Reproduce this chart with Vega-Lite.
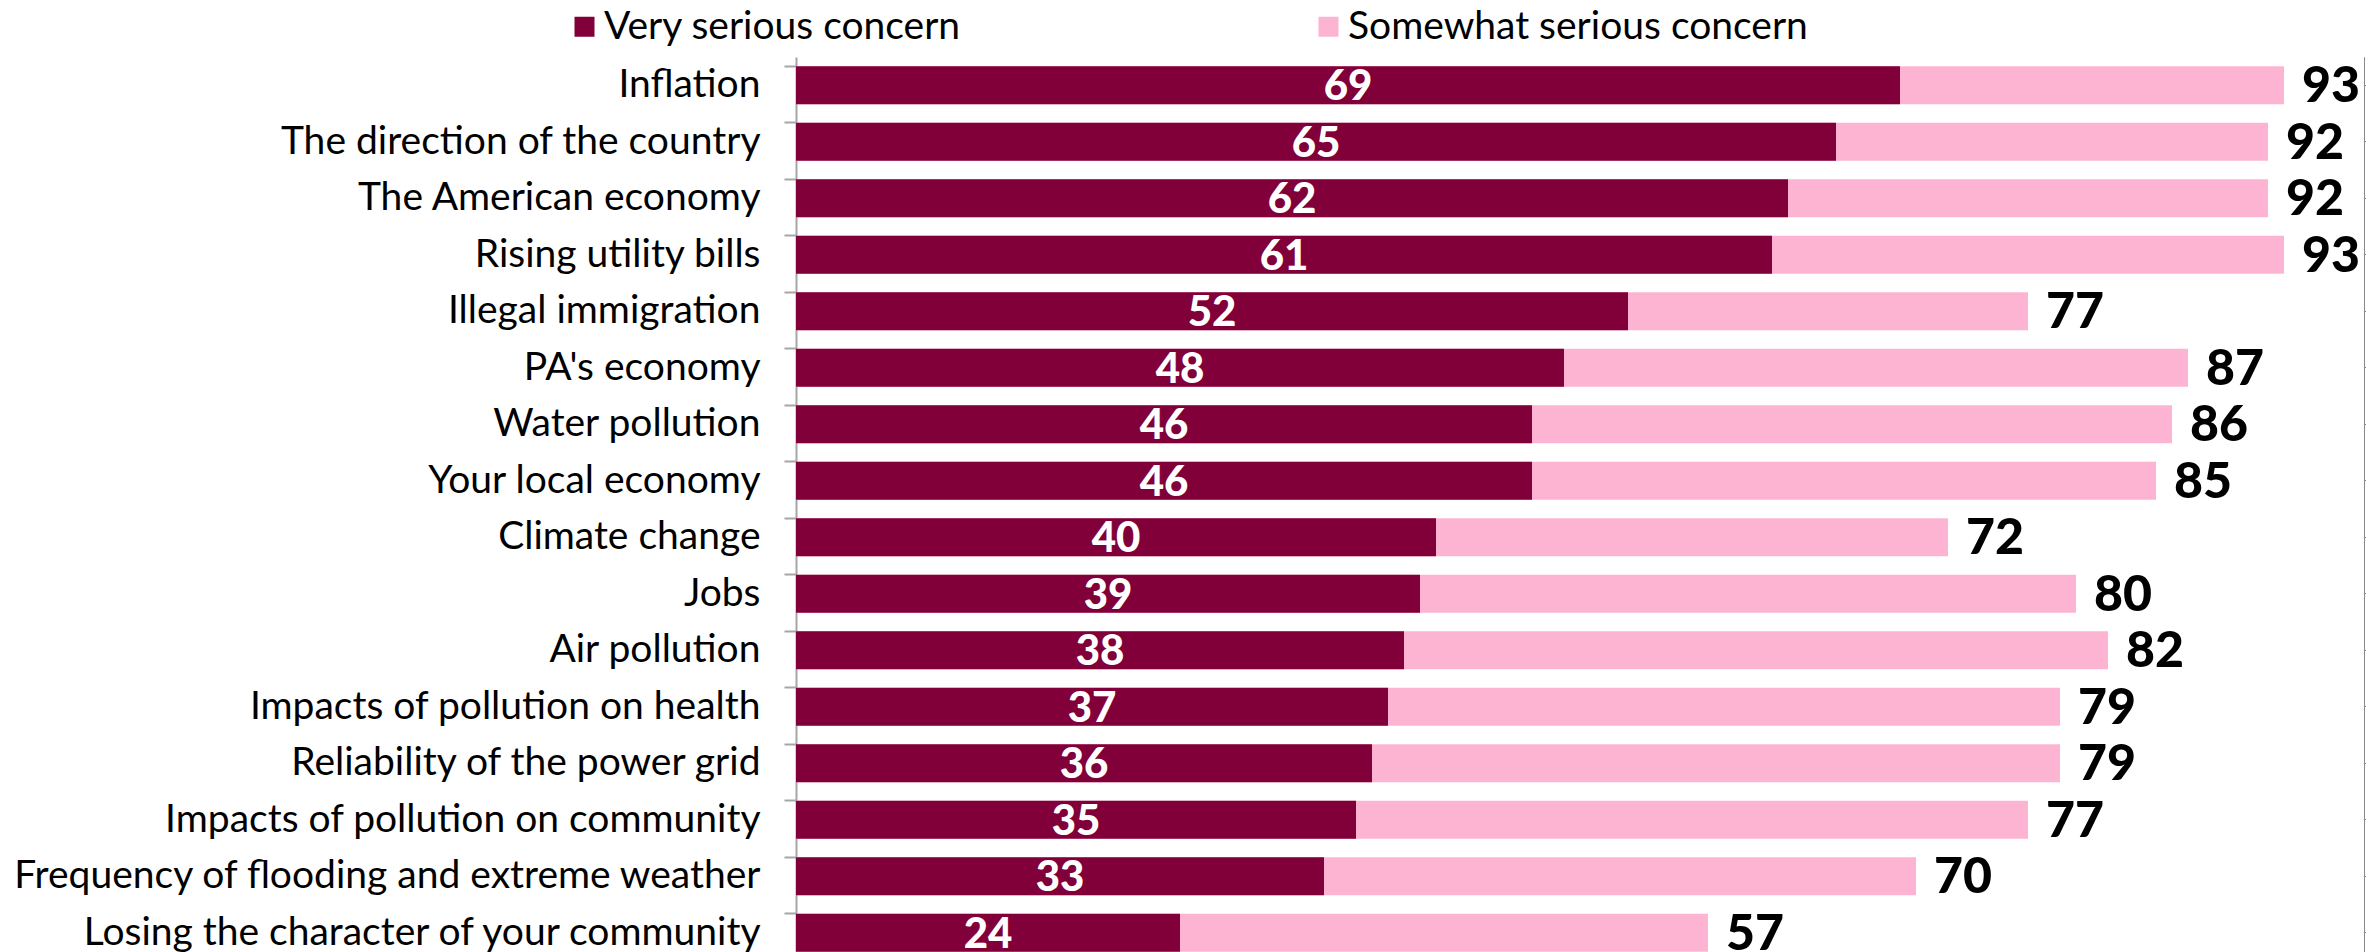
{
  "$schema": "https://vega.github.io/schema/vega-lite/v6.json",
  "autosize": {"type": "none"},
  "padding": {"left": 796, "top": 57, "right": 2, "bottom": 0},
  "width": 1568,
  "height": 904,
  "background": "white",
  "config": {
    "view": {"stroke": null},
    "font": "Lato"
  },
  "data": {
    "values": [
      {"item": "Inflation", "very": 69, "total": 93},
      {"item": "The direction of the country", "very": 65, "total": 92},
      {"item": "The American economy", "very": 62, "total": 92},
      {"item": "Rising utility bills", "very": 61, "total": 93},
      {"item": "Illegal immigration", "very": 52, "total": 77},
      {"item": "PA's economy", "very": 48, "total": 87},
      {"item": "Water pollution", "very": 46, "total": 86},
      {"item": "Your local economy", "very": 46, "total": 85},
      {"item": "Climate change", "very": 40, "total": 72},
      {"item": "Jobs", "very": 39, "total": 80},
      {"item": "Air pollution", "very": 38, "total": 82},
      {"item": "Impacts of pollution on health", "very": 37, "total": 79},
      {"item": "Reliability of the power grid", "very": 36, "total": 79},
      {"item": "Impacts of pollution on community", "very": 35, "total": 77},
      {"item": "Frequency of flooding and extreme weather", "very": 33, "total": 70},
      {"item": "Losing the character of your community", "very": 24, "total": 57}
    ]
  },
  "layer": [
    {
      "mark": {"type": "bar"},
      "encoding": {
        "y": {
          "field": "item", "type": "nominal", "sort": null,
          "scale": {"paddingInner": 0.327, "paddingOuter": 0.1635},
          "axis": {
            "orient": "left", "title": null, "ticks": false, "domain": true,
            "domainColor": "#a6a6a6", "domainWidth": 2,
            "labelFont": "Lato", "labelFontSize": 39, "labelColor": "#000000",
            "labelPadding": 36, "labelLimit": 900
          }
        },
        "x": {
          "field": "total", "type": "quantitative",
          "scale": {"domain": [0, 98], "nice": false},
          "axis": null
        },
        "color": {
          "datum": "Somewhat serious concern",
          "scale": {
            "domain": ["Very serious concern", "Somewhat serious concern"],
            "range": ["#820039", "#fdb4d3"]
          },
          "legend": {
            "title": null, "orient": "none", "direction": "horizontal",
            "legendX": -231, "legendY": -50,
            "symbolType": "square", "symbolSize": 400, "symbolStrokeWidth": 0,
            "labelFont": "Lato", "labelFontSize": 39, "labelColor": "#000000",
            "labelOffset": 0, "columnPadding": 347, "labelLimit": 800
          }
        }
      }
    },
    {
      "mark": {"type": "bar"},
      "encoding": {
        "y": {
          "field": "item", "type": "nominal", "sort": null,
          "axis": {
            "orient": "left", "title": null, "labels": false, "domain": false,
            "ticks": true, "tickSize": 12, "tickColor": "#a6a6a6", "tickWidth": 2,
            "bandPosition": 0
          }
        },
        "x": {"field": "very", "type": "quantitative"},
        "color": {"datum": "Very serious concern"}
      }
    },
    {
      "mark": {"type": "text", "color": "white", "font": "Lato", "fontWeight": 900, "fontSize": 42, "baseline": "middle", "align": "center", "dy": 2},
      "encoding": {
        "y": {"field": "item", "type": "nominal", "sort": null},
        "x": {"field": "very", "type": "quantitative", "stack": "zero", "bandPosition": 0.5},
        "text": {"field": "very", "type": "quantitative"}
      }
    },
    {
      "mark": {"type": "text", "color": "black", "font": "Lato", "fontWeight": 900, "fontSize": 50, "baseline": "middle", "align": "left", "dx": 18, "dy": 2},
      "encoding": {
        "y": {"field": "item", "type": "nominal", "sort": null},
        "x": {"field": "total", "type": "quantitative"},
        "text": {"field": "total", "type": "quantitative"}
      }
    }
  ],
  "resolve": {"axis": {"y": "independent"}}
}
